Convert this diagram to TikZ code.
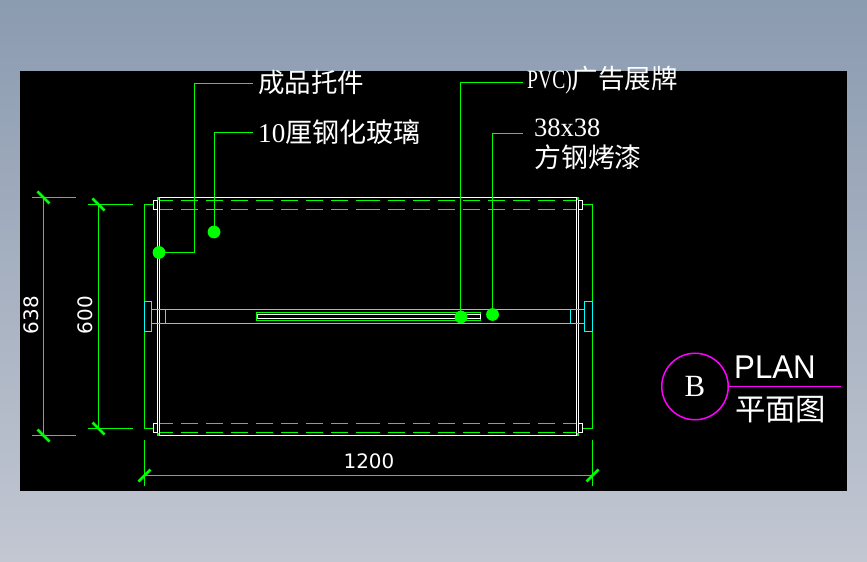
\documentclass[tikz,border=0pt]{standalone}
\usepackage{fontspec}
\setmainfont{Liberation Serif}
\newfontfamily\cjk{Noto Sans CJK SC}
\newfontfamily\dimfont{DejaVu Sans}
\newfontfamily\planfont{Liberation Sans}
\usetikzlibrary{calc, positioning}
\definecolor{skyTop}{HTML}{8B9BB0}
\definecolor{skyBottom}{HTML}{C2C7D2}
\definecolor{cadGreen}{RGB}{0,255,0}
\definecolor{cadCyan}{RGB}{0,255,255}
\definecolor{cadPink}{RGB}{255,0,255}
\newcommand{\latinpart}[1]{{\fontspec{Liberation Serif}#1}}
\tikzset{
    greenline/.style={cadGreen, line width=1.5bp},
    whiteline/.style={white, line width=1.5bp},
    cyanline/.style={cadCyan, line width=1.5bp},
    glassline/.style={cadGreen, line width=1.5bp, dash pattern=on 17bp off 8bp, dash phase=4bp},
    tickmark/.style={cadGreen, line width=2.6bp},
    leaderdot/.style={circle, fill=cadGreen, inner sep=0pt, minimum size=12.8bp},
    notetext/.style={white, font=\fontsize{26.6}{31}\selectfont\cjk, inner sep=0pt, anchor=west},
    dimtext/.style={white, font=\fontsize{20}{20}\selectfont\dimfont, inner sep=0pt},
}
\begin{document}
\begin{tikzpicture}[x=1bp, y=-1bp]
    \useasboundingbox (0,0) rectangle (867,562);
    % Background
    \shade[top color=skyTop, bottom color=skyBottom] (0,0) rectangle (867,562);
    \fill[black] (20,71) rectangle (847,491);

    % Glass outline
    \draw[whiteline] (159.5,197.5) -- (576.5,197.5);
    \draw[whiteline] (159.5,435.5) -- (576.5,435.5);
    \draw[whiteline] (157.5,200) -- (157.5,433);
    \draw[whiteline] (159.5,197.5) -- (159.5,435.5);
    \draw[whiteline] (576.5,197.5) -- (576.5,435.5);
    \draw[whiteline] (578.5,200) -- (578.5,433);
    \foreach \sx in {158,578} {
        \draw[greenline] (\sx,197) -- (\sx,200);
        \draw[greenline] (\sx,433) -- (\sx,436);
    }

    % Dashes run in from both ends
    \foreach \dy in {200.5,209.5,423.5,432.5} {
        \draw[glassline] (160,\dy) -- (368,\dy);
        \draw[glassline] (576,\dy) -- (368,\dy);
    }

    % Small white clips
    \foreach \cx/\cy in {153.5/200.5, 153.5/423.5, 578.5/200.5, 578.5/423.5}
        \draw[whiteline] (\cx,\cy) rectangle ++(4,9);

    % Green side lines
    \draw[greenline] (153,204.5) -- (144.5,204.5) -- (144.5,428.5) -- (153,428.5);
    \draw[greenline] (583,204.5) -- (592.5,204.5) -- (592.5,428.5) -- (583,428.5);

    % Cyan post and end plates
    \draw[cyanline] (151,309.5) -- (584.5,309.5);
    \draw[cyanline] (151,323.5) -- (584.5,323.5);
    \draw[cyanline] (165.5,309.5) -- (165.5,323.5);
    \draw[cyanline] (570.5,309.5) -- (570.5,323.5);
    \draw[cyanline] (144.5,301.5) rectangle (151.5,331.5);
    \draw[cyanline] (584.5,301.5) rectangle (592.5,331.5);

    % PVC board
    \draw[greenline] (256.5,312.5) rectangle (480.5,320.5);
    \draw[whiteline] (257.5,314.5) rectangle (480.5,318.5);

    % Notes
    \node[notetext] (noteTray) at (258,83) {成品托件};
    \node[notetext, font=\fontsize{27.2}{31}\selectfont\cjk] (noteGlass) at (258,132) {\latinpart{10}厘钢化玻璃};
    \node[notetext] (noteBoard) at (527,80) {\latinpart{\scalebox{0.74}[1]{PVC)}}广告展牌};
    \node[notetext, align=left, font=\fontsize{27}{31}\selectfont\cjk] (noteTube) at (534,144) {\latinpart{\fontsize{26.6}{31}\selectfont 38x38}\\方钢烤漆};

    \node[leaderdot] (dotTray) at (159,252.5) {};
    \node[leaderdot] (dotGlass) at (214,232) {};
    \node[leaderdot] (dotBoard) at (461,317) {};
    \node[leaderdot] (dotTube) at (492.5,314.5) {};

    \coordinate (endTray) at (253,83.5);
    \coordinate (endGlass) at (253,132.5);
    \coordinate (endBoard) at (523,82.5);
    \coordinate (endTube) at (523,133.5);

    \draw[greenline] (dotTray.center) -- (194.5,252.5) |- (endTray);
    \draw[greenline] (214.5,232) |- (endGlass);
    \draw[greenline] (460.5,317) |- (endBoard);
    \draw[greenline] (dotTube.center) |- (endTube);

    % Dimension 638
    \draw[greenline] (32,197.5) -- (76,197.5);
    \draw[greenline] (32,435.5) -- (76,435.5);
    \draw[greenline] (43.5,197.5) -- (43.5,435.5);
    \draw[tickmark] (37.5,191.5) -- (49.5,203.5);
    \draw[tickmark] (37.5,429.5) -- (49.5,441.5);
    \node[dimtext, rotate=90] (dimDepth) at (31,315) {638};

    % Dimension 600
    \draw[greenline] (88,204.5) -- (133,204.5);
    \draw[greenline] (88,428.5) -- (133,428.5);
    \draw[greenline] (98.5,204.5) -- (98.5,428.5);
    \draw[tickmark] (92.5,198.5) -- (104.5,210.5);
    \draw[tickmark] (92.5,422.5) -- (104.5,434.5);
    \node[dimtext, rotate=90] (dimInner) at (85.5,315) {600};

    % Dimension 1200
    \draw[greenline] (144.5,440) -- (144.5,486);
    \draw[greenline] (592.5,440) -- (592.5,486);
    \draw[greenline] (144.5,475.5) -- (592.5,475.5);
    \draw[tickmark] (138.5,481.5) -- (150.5,469.5);
    \draw[tickmark] (586.5,481.5) -- (598.5,469.5);
    \node[dimtext] (dimWidth) at (369,461) {1200};

    % Title mark
    \node[draw=cadPink, line width=1.5bp, circle, minimum size=66.5bp, inner sep=0pt,
        text=white, font=\fontsize{31}{31}\selectfont] (markB) at (695,386.5) {B};
    \coordinate (titleEnd) at (841,386.5);
    \draw[cadPink, line width=1.5bp] (markB) -- (titleEnd);
    \node[white, font=\fontsize{33}{33}\selectfont\planfont, inner sep=0pt, anchor=west, xscale=0.95] (titlePlan) at (734,367) {PLAN};
    \node[white, font=\fontsize{30.5}{30.5}\selectfont\cjk, inner sep=0pt, anchor=west] (titleCn) at (735,410) {平面图};
\end{tikzpicture}
\end{document}
